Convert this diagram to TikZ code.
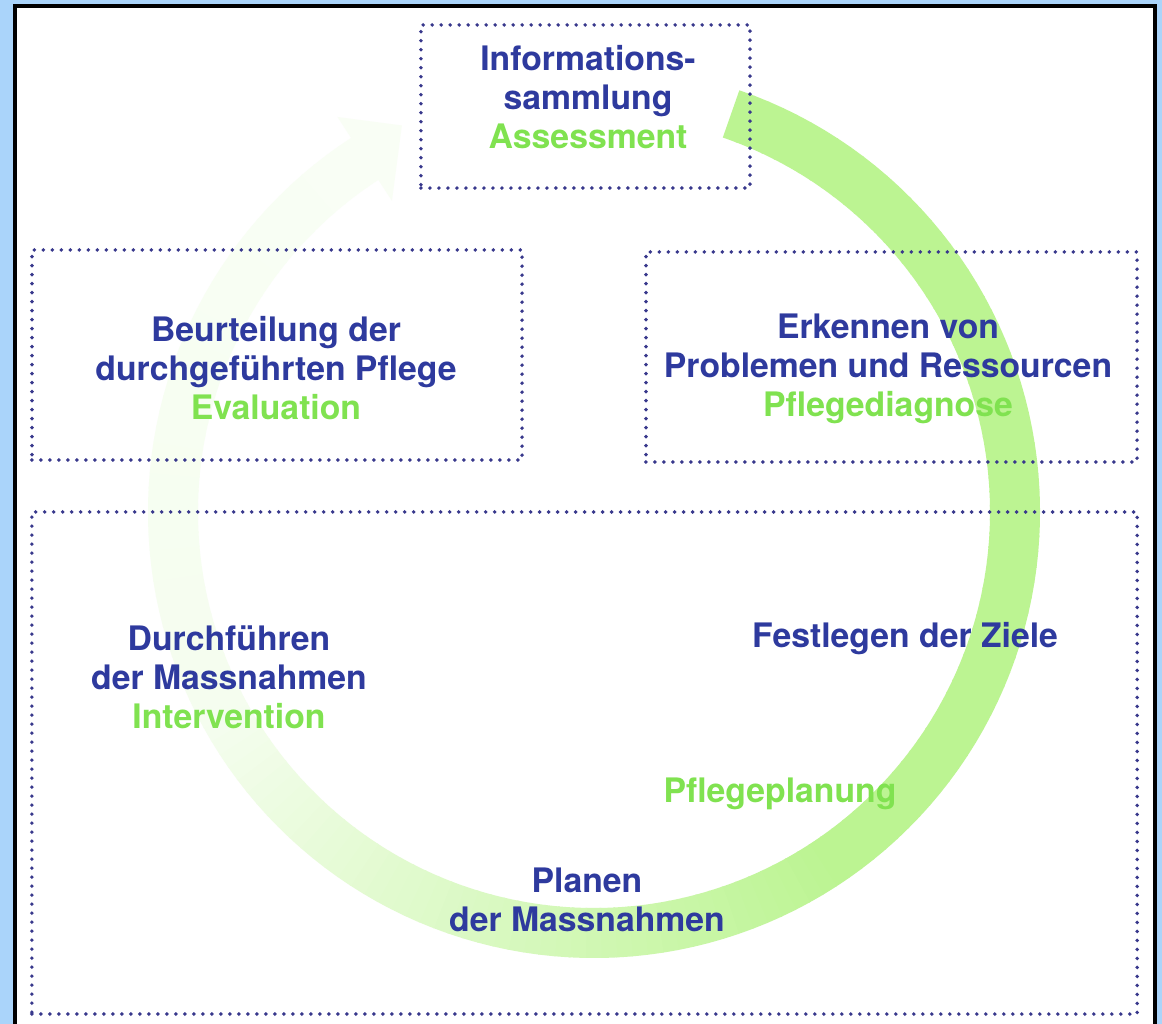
\documentclass[tikz,border=0pt]{standalone}
\usepackage{fontspec}
\setmainfont{TeX Gyre Heros}

\definecolor{stepblue}{RGB}{46,58,158}
\definecolor{stepgreen}{RGB}{128,226,80}
\definecolor{ringgreen}{RGB}{188,244,146}
\definecolor{dotblue}{RGB}{56,56,140}
\definecolor{framesky}{RGB}{170,212,250}

\newcommand{\phase}[1]{\textcolor{stepgreen}{#1}}

\tikzset{mbox/.style = {shape = rectangle,
                                    draw = dotblue,
                                    line width = 2.8pt,
                                    line cap = round,
                                    dash pattern = on 0pt off 6.4pt,
                                    inner sep = 0pt},
         mtext/.style = {text = stepblue,
                                    align = center,
                                    inner sep = 0pt,
                                    font = \fontsize{24}{27.7}\selectfont\bfseries},
         ringseg/.style = {line width = 1.25cm,
                                    line cap = butt}}

\begin{document}
\begin{tikzpicture}[x = 0.025cm, y = 0.025cm]
		\useasboundingbox (0,0) rectangle (1162,1024);
		% frame
		\fill[framesky] (0,0) rectangle (1162,1024);
		\fill[white] (15,0) rectangle (1155,1018);
		\draw[line width = 3pt] (15,-5) -- (15,1018) -- (1155,1018) -- (1155,-5);
		% ring, fading out towards the head
		\foreach \a in {71,69,...,-235} {
			\pgfmathsetmacro{\p}{\a >= -55 ? 100 : (\a >= -150 ? 100 - (-55 - (\a))*85/95 : 15 - (-150 - (\a))*6/88)}
			\draw[ringseg, draw = ringgreen!\p!white] (594,512) ++(\a:421) arc[start angle = \a, end angle = \a - 2.2, radius = 421];
		}
		\path (594,512) ++(123:471) coordinate (h1)
		      (594,512) ++(123:371) coordinate (h2)
		      (594,512) ++(123:421) ++(42:50) coordinate (tip);
		\fill[ringgreen!9!white] (h1) -- (tip) -- (h2) -- cycle;
		% boxes
		\node[mbox, minimum width = 8.225cm, minimum height = 4.075cm] (info) at (585.5,917.5) {};
		\node[mbox, minimum width = 12.25cm, minimum height = 5.25cm] (eval) at (277,669) {};
		\node[mbox, minimum width = 12.275cm, minimum height = 5.25cm] (diag) at (891.5,667) {};
		\node[mbox, minimum width = 27.625cm, minimum height = 12.55cm] (plan) at (584.5,261) {};
		% texts
		\node[mtext] (infoText) at (588,926.5) {Informations-\\sammlung\\\phase{Assessment}};
		\node[mtext] (evalText) at (276,655.5) {Beurteilung der\\durchgeführten Pflege\\\phase{Evaluation}};
		\node[mtext] (diagText) at (888,655.5) {Erkennen von\\Problemen und Ressourcen\\\phase{Pflegediagnose}};
		\node[mtext] (doText) at (229,346.5) {Durchführen\\der Massnahmen\\\phase{Intervention}};
		\node[mtext, anchor = base] (goalText) at (905,376) {Festlegen der Ziele};
		\node[mtext, anchor = base] (planningText) at (780,221) {\phase{Pflegeplanung}};
		\node[mtext] (planText) at (587,124) {Planen\\der Massnahmen};
	\end{tikzpicture}
\end{document}
